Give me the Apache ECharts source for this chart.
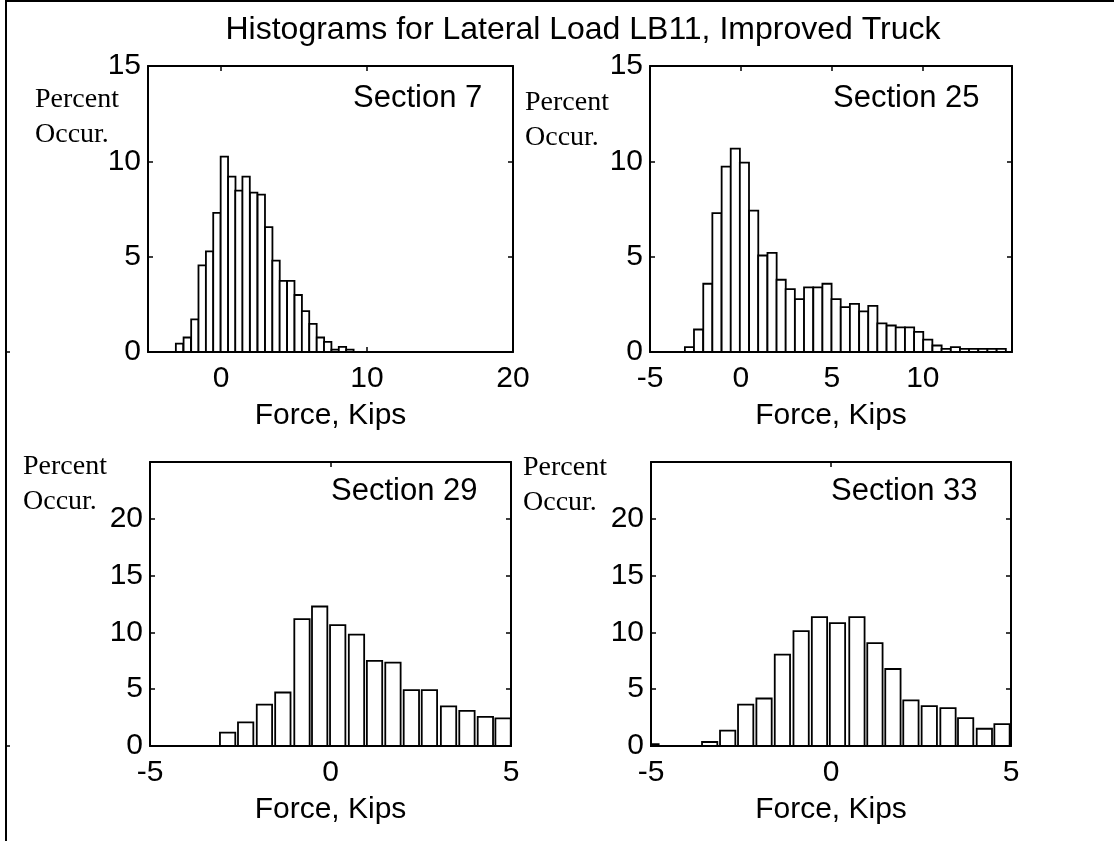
<!DOCTYPE html>
<html>
<head>
<meta charset="utf-8">
<script src="https://cdn.jsdelivr.net/npm/echarts@6/dist/echarts.min.js"></script>
<style>
  html, body { margin: 0; padding: 0; background: #fff; }
  #chart { width: 1114px; height: 841px; }
</style>
</head>
<body>
<div id="chart"></div>
<script>
// Histogram bins (centre of each bin, kips) and percent occurrence per section
const sec7Centers = [-2.84, -2.31, -1.79, -1.29, -0.78, -0.28, 0.23, 0.74, 1.23, 1.72, 2.24, 2.76,
                     3.27, 3.77, 4.27, 4.78, 5.29, 5.79, 6.30, 6.81, 7.31, 7.82, 8.32, 8.83];
const sec7Percent = [0.44, 0.76, 1.71, 4.54, 5.28, 7.30, 10.25, 9.20, 8.46, 9.20, 8.36, 8.25,
                     6.55, 4.79, 3.73, 3.73, 2.99, 2.14, 1.47, 0.76, 0.53, 0.12, 0.27, 0.12];

const sec25Centers = [-2.83, -2.33, -1.82, -1.32, -0.81, -0.31, 0.19, 0.70, 1.20, 1.71, 2.21, 2.71,
                      3.22, 3.72, 4.23, 4.73, 5.23, 5.74, 6.24, 6.75, 7.25, 7.75, 8.26, 8.76,
                      9.27, 9.77, 10.27, 10.78, 11.28, 11.79, 12.29, 12.79, 13.30, 13.80, 14.31];
const sec25Percent = [0.26, 1.18, 3.58, 7.28, 9.72, 10.67, 9.93, 7.41, 5.06, 5.20, 3.79, 3.30,
                      2.77, 3.39, 3.39, 3.58, 2.77, 2.35, 2.52, 2.13, 2.42, 1.50, 1.39, 1.29,
                      1.29, 1.06, 0.65, 0.34, 0.16, 0.26, 0.16, 0.16, 0.16, 0.16, 0.16];

const sec29Centers = [-2.85, -2.35, -1.83, -1.32, -0.79, -0.30, 0.20, 0.72, 1.22, 1.73, 2.24, 2.74,
                      3.27, 3.78, 4.29, 4.78];
const sec29Percent = [1.17, 2.08, 3.65, 4.71, 11.17, 12.28, 10.64, 9.80, 7.49, 7.34, 4.91, 4.91,
                      3.48, 3.10, 2.57, 2.43];

const sec33Centers = [-5.00, -3.37, -2.87, -2.37, -1.86, -1.35, -0.83, -0.32, 0.18, 0.72, 1.22,
                      1.72, 2.22, 2.73, 3.25, 3.74, 4.26, 4.75];
const sec33Percent = [0.17, 0.35, 1.35, 3.65, 4.18, 8.04, 10.12, 11.35, 10.82, 11.35, 9.06,
                      6.78, 4.01, 3.51, 3.33, 2.46, 1.52, 1.93];

// Bin widths (kips)
const sec7BinWidth = 0.505;
const sec25BinWidth = 0.504;
const sec29BarWidth = 0.425;
const sec33BarWidth = 0.425;

// Tick values
const xTicks7 = [0, 10, 20];
const xTicks25 = [-5, 0, 5, 10];
const xTicksNarrow = [-5, 0, 5];
const yTicksTop = [0, 5, 10, 15];
const yTicksBottom = [0, 5, 10, 15, 20];

const titleText = 'Histograms for Lateral Load LB11, Improved Truck';
const sectionNames = ['Section 7', 'Section 25', 'Section 29', 'Section 33'];
const xName = 'Force, Kips';

const SANS = '"Liberation Sans", Arial, Helvetica, sans-serif';
const SERIF = '"Liberation Serif", "Times New Roman", serif';

const grids = [
  { left: 148, top: 66, width: 365, height: 286 },
  { left: 650, top: 66, width: 362, height: 286 },
  { left: 150, top: 462, width: 361, height: 284 },
  { left: 651, top: 462, width: 360, height: 284 }
];

const panels = [
  { xMin: -5, xMax: 20, xTicks: xTicks7, yMax: 15, yTicks: yTicksTop, centers: sec7Centers, values: sec7Percent, w: sec7BinWidth },
  { xMin: -5, xMax: 14.9, xTicks: xTicks25, yMax: 15, yTicks: yTicksTop, centers: sec25Centers, values: sec25Percent, w: sec25BinWidth },
  { xMin: -5, xMax: 5, xTicks: xTicksNarrow, yMax: 25, yTicks: yTicksBottom, centers: sec29Centers, values: sec29Percent, w: sec29BarWidth },
  { xMin: -5, xMax: 5, xTicks: xTicksNarrow, yMax: 25, yTicks: yTicksBottom, centers: sec33Centers, values: sec33Percent, w: sec33BarWidth }
];

const axisLine = { show: true, onZero: false, lineStyle: { color: '#000', width: 2 } };
const tickStyle = { color: '#000', width: 1.5 };

const xAxes = [];
const yAxes = [];
const series = [];

panels.forEach((p, i) => {
  xAxes.push({
    type: 'value', gridIndex: i, min: p.xMin, max: p.xMax, position: 'bottom',
    axisLine: axisLine,
    axisTick: { show: true, inside: true, length: 5, customValues: p.xTicks, lineStyle: tickStyle },
    axisLabel: { customValues: p.xTicks, color: '#000', fontSize: 30, fontFamily: SANS, margin: 12 },
    splitLine: { show: false },
    name: xName, nameLocation: 'middle', nameGap: 49,
    nameTextStyle: { color: '#000', fontSize: 30, fontFamily: SANS, verticalAlign: 'top' }
  });
  xAxes.push({
    type: 'value', gridIndex: i, min: p.xMin, max: p.xMax, position: 'top',
    axisLine: axisLine,
    axisTick: { show: true, inside: true, length: 5, customValues: p.xTicks, lineStyle: tickStyle },
    axisLabel: { show: false },
    splitLine: { show: false }
  });
  yAxes.push({
    type: 'value', gridIndex: i, min: 0, max: p.yMax, position: 'left',
    axisLine: axisLine,
    axisTick: { show: true, inside: true, length: 5, customValues: p.yTicks, lineStyle: tickStyle },
    axisLabel: { customValues: p.yTicks, color: '#000', fontSize: 30, fontFamily: SANS, margin: 7 },
    splitLine: { show: false }
  });
  yAxes.push({
    type: 'value', gridIndex: i, min: 0, max: p.yMax, position: 'right',
    axisLine: axisLine,
    axisTick: { show: true, inside: true, length: 5, customValues: p.yTicks, lineStyle: tickStyle },
    axisLabel: { show: false },
    splitLine: { show: false }
  });

  const binWidth = p.w;
  series.push({
    type: 'custom',
    xAxisIndex: 2 * i,
    yAxisIndex: 2 * i,
    encode: { x: 0, y: 1 },
    data: p.centers.map((c, k) => [c, p.values[k]]),
    renderItem: function (params, api) {
      const c = api.value(0);
      const h = api.value(1);
      const a = api.coord([c - binWidth / 2, 0]);
      const b = api.coord([c + binWidth / 2, h]);
      const cs = params.coordSys;
      const rect = echarts.graphic.clipRectByRect(
        { x: a[0], y: b[1], width: b[0] - a[0], height: a[1] - b[1] },
        { x: cs.x, y: cs.y, width: cs.width, height: cs.height }
      );
      if (!rect) return null;
      return {
        type: 'rect',
        shape: rect,
        style: { fill: '#fff', stroke: '#000', lineWidth: 1.8 }
      };
    }
  });
});

// Annotation text: title, section labels, y-axis captions, outer frame
const graphic = [
  { type: 'line', shape: { x1: 6, y1: 0, x2: 6, y2: 841 }, style: { stroke: '#000', lineWidth: 2 } },
  { type: 'line', shape: { x1: 6, y1: 1, x2: 1114, y2: 1 }, style: { stroke: '#000', lineWidth: 2 } },
  { type: 'line', shape: { x1: 6, y1: 352, x2: 10, y2: 352 }, style: { stroke: '#000', lineWidth: 1.5 } },
  { type: 'line', shape: { x1: 6, y1: 746, x2: 10, y2: 746 }, style: { stroke: '#000', lineWidth: 1.5 } },
  { type: 'text', x: 583, y: 30, style: { text: titleText, font: '32px ' + SANS, fill: '#000', align: 'center', verticalAlign: 'middle' } }
];

const sectionPos = [[353, 98], [833, 98], [331, 491], [831, 491]];
sectionNames.forEach((s, i) => {
  graphic.push({ type: 'text', x: sectionPos[i][0], y: sectionPos[i][1],
    style: { text: s, font: '31px ' + SANS, fill: '#000', align: 'left', verticalAlign: 'middle' } });
});

const captionPos = [[35, 100, 135], [525, 103, 138], [23, 467, 502], [523, 468, 503]];
captionPos.forEach(([x, y1, y2]) => {
  graphic.push({ type: 'text', x: x, y: y1, style: { text: 'Percent', font: '28px ' + SERIF, fill: '#000', align: 'left', verticalAlign: 'middle' } });
  graphic.push({ type: 'text', x: x, y: y2, style: { text: 'Occur.', font: '28px ' + SERIF, fill: '#000', align: 'left', verticalAlign: 'middle' } });
});

const chart = echarts.init(document.getElementById('chart'), null, { renderer: 'canvas' });
chart.setOption({
  animation: false,
  backgroundColor: '#fff',
  grid: grids,
  xAxis: xAxes,
  yAxis: yAxes,
  series: series,
  graphic: graphic
});
</script>
</body>
</html>
